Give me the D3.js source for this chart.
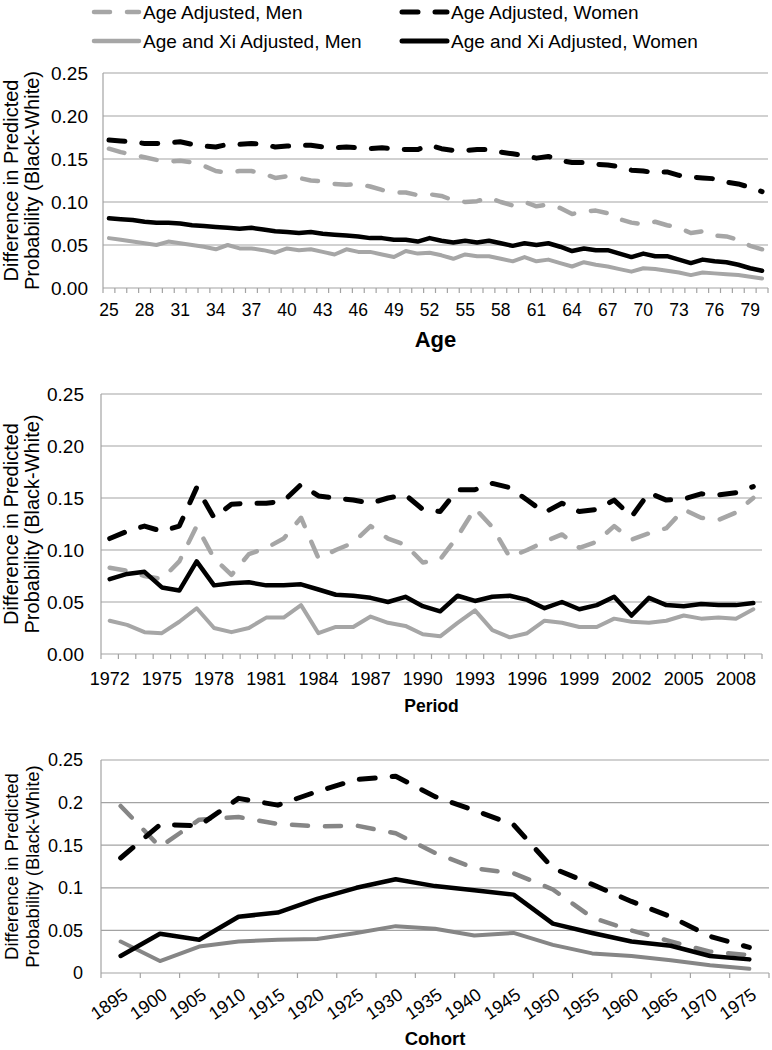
<!DOCTYPE html>
<html><head><meta charset="utf-8">
<script src="https://cdn.jsdelivr.net/npm/d3@7/dist/d3.min.js"></script>
<style>
body{margin:0;background:#fff}
text{font-family:"Liberation Sans",Arial,Helvetica,sans-serif;fill:#000}
</style>
</head><body>
<svg id="chart" width="772" height="1050"></svg>
<script>
// ---------- DATA ----------
const seriesNames = ["Age Adjusted, Men","Age Adjusted, Women","Age and Xi Adjusted, Men","Age and Xi Adjusted, Women"];

const ageCats = [25,26,27,28,29,30,31,32,33,34,35,36,37,38,39,40,41,42,43,44,45,46,47,48,49,50,51,52,53,54,55,56,57,58,59,60,61,62,63,64,65,66,67,68,69,70,71,72,73,74,75,76,77,78,79,80];
const ageMen = [.162,.158,.155,.152,.149,.147,.148,.146,.142,.136,.134,.136,.136,.133,.128,.130,.128,.125,.124,.121,.120,.121,.118,.114,.111,.111,.108,.109,.107,.102,.100,.101,.105,.100,.096,.100,.095,.097,.093,.086,.089,.090,.087,.080,.076,.074,.077,.073,.070,.064,.066,.061,.060,.056,.049,.045];
const ageWomen = [.172,.171,.170,.168,.168,.169,.170,.167,.165,.164,.167,.167,.168,.167,.164,.165,.166,.166,.164,.163,.164,.163,.162,.163,.162,.161,.161,.166,.162,.160,.160,.161,.161,.158,.156,.154,.151,.153,.148,.146,.146,.144,.143,.141,.137,.136,.134,.135,.131,.129,.128,.127,.123,.121,.117,.112];
const ageXiMen = [.058,.056,.054,.052,.050,.054,.052,.050,.048,.045,.050,.046,.046,.044,.041,.046,.044,.045,.042,.039,.045,.042,.042,.039,.036,.043,.040,.041,.038,.034,.039,.037,.037,.034,.031,.036,.031,.033,.029,.025,.030,.027,.025,.022,.019,.023,.022,.020,.018,.015,.018,.017,.016,.015,.013,.011];
const ageXiWomen = [.081,.080,.079,.077,.076,.076,.075,.073,.072,.071,.070,.069,.070,.068,.066,.065,.064,.065,.063,.062,.061,.060,.058,.058,.056,.056,.054,.058,.055,.053,.055,.053,.055,.052,.049,.052,.050,.052,.048,.043,.046,.044,.044,.040,.036,.040,.037,.037,.033,.029,.033,.031,.030,.027,.023,.020];

const periodCats = [1972,1973,1974,1975,1976,1977,1978,1979,1980,1981,1982,1983,1984,1985,1986,1987,1988,1989,1990,1991,1992,1993,1994,1995,1996,1997,1998,1999,2000,2001,2002,2003,2004,2005,2006,2007,2008,2009];
const periodMen = [.083,.080,.075,.072,.089,.123,.092,.076,.096,.102,.111,.131,.092,.100,.107,.123,.111,.105,.088,.091,.113,.140,.122,.093,.100,.108,.115,.102,.108,.123,.110,.116,.121,.139,.131,.129,.136,.150];
const periodWomen = [.111,.118,.123,.118,.123,.160,.131,.144,.145,.145,.147,.163,.152,.150,.148,.145,.150,.153,.139,.137,.158,.158,.164,.160,.148,.136,.145,.137,.139,.148,.132,.155,.148,.149,.154,.153,.155,.161];
const periodXiMen = [.032,.028,.021,.020,.031,.044,.025,.021,.025,.035,.035,.047,.020,.026,.026,.036,.030,.027,.019,.017,.030,.042,.023,.016,.020,.032,.030,.026,.026,.034,.031,.030,.032,.037,.034,.035,.034,.043];
const periodXiWomen = [.072,.077,.079,.064,.061,.089,.066,.068,.069,.066,.066,.067,.062,.057,.056,.054,.050,.055,.046,.041,.056,.051,.055,.056,.052,.044,.050,.043,.047,.055,.037,.054,.047,.046,.048,.047,.047,.049];

const cohortCats = [1895,1900,1905,1910,1915,1920,1925,1930,1935,1940,1945,1950,1955,1960,1965,1970,1975];
const cohortMen = [.196,.148,.180,.183,.175,.172,.173,.164,.141,.123,.117,.098,.065,.050,.037,.025,.021];
const cohortWomen = [.135,.174,.173,.205,.197,.213,.227,.231,.207,.191,.174,.123,.104,.084,.066,.043,.030];
const cohortXiMen = [.037,.014,.031,.037,.039,.040,.047,.055,.052,.044,.047,.033,.023,.020,.015,.009,.005];
const cohortXiWomen = [.020,.046,.039,.066,.071,.087,.100,.110,.102,.097,.092,.058,.047,.037,.032,.020,.016];

const yTicks = [0,0.05,0.10,0.15,0.20,0.25];
const yLabels2dp = ["0.00","0.05","0.10","0.15","0.20","0.25"];
const yLabelsShort = ["0","0.05","0.1","0.15","0.2","0.25"];
const yTitle = ["Difference in Predicted","Probability (Black-White)"];
const axisTitles = ["Age","Period","Cohort"];

// ---------- LAYOUT ----------
const svg = d3.select("#chart");
const gridColor = "#a3a3a3";

const panels = [
  {cats:ageCats, data:[ageMen,ageWomen,ageXiMen,ageXiWomen], L:103,R:768,T:73,B:288,
   yLab:yLabels2dp, yFs:19, yGap:15, every:3, xFs:17.5, xLabY:316, rot:0,
   title:axisTitles[0], tFs:22, tY:347, ytFs:20, gray:"#a6a6a6"},
  {cats:periodCats, data:[periodMen,periodWomen,periodXiMen,periodXiWomen], L:101,R:762,T:394,B:654,
   yLab:yLabels2dp, yFs:19, yGap:17, every:3, xFs:18, xLabY:685, rot:0,
   title:axisTitles[1], tFs:17.5, tY:712, ytFs:20, gray:"#a6a6a6"},
  {cats:cohortCats, data:[cohortMen,cohortWomen,cohortXiMen,cohortXiWomen], L:101,R:769,T:760,B:973,
   yLab:yLabelsShort, yFs:18, yGap:18, every:1, xFs:18, xLabY:987, rot:-35,
   title:axisTitles[2], tFs:18.5, tY:1045, ytFs:18.5, gray:"#868686"}
];

const styles = [
  {colorKey:"gray", w:4.5, dash:"16 17"},
  {colorKey:"black", w:5, dash:"16 17"},
  {colorKey:"gray", w:4, dash:null},
  {colorKey:"black", w:4.5, dash:null}
];

panels.forEach(p => {
  const g = svg.append("g");
  const x = d3.scaleBand().domain(p.cats).range([p.L, p.R]).paddingInner(0).paddingOuter(0);
  const y = d3.scaleLinear().domain([0, 0.25]).range([p.B, p.T]);

  // gridlines
  g.selectAll("line.grid").data(yTicks.slice(1)).join("line")
    .attr("x1", p.L).attr("x2", p.R)
    .attr("y1", d => y(d)).attr("y2", d => y(d))
    .attr("stroke", gridColor).attr("stroke-width", 1.2);

  // y axis line
  g.append("line").attr("x1", p.L).attr("x2", p.L).attr("y1", y(0.25)).attr("y2", y(0))
    .attr("stroke", gridColor).attr("stroke-width", 1.2);
  // x axis line
  g.append("line").attr("x1", p.L).attr("x2", p.R).attr("y1", y(0)).attr("y2", y(0))
    .attr("stroke", gridColor).attr("stroke-width", 1.2);

  // x ticks at category boundaries
  const edges = p.cats.map(c => x(c)).concat([x(p.cats[p.cats.length-1]) + x.bandwidth()]);
  g.selectAll("line.xt").data(edges).join("line")
    .attr("x1", d => d).attr("x2", d => d)
    .attr("y1", y(0)).attr("y2", y(0) + 5)
    .attr("stroke", gridColor).attr("stroke-width", 1.2);

  // y tick labels
  g.selectAll("text.yl").data(yTicks).join("text")
    .attr("x", p.L - p.yGap).attr("y", d => y(d)).attr("dy", "0.35em")
    .attr("text-anchor", "end").attr("font-size", p.yFs)
    .text((d, i) => p.yLab[i]);

  // x tick labels
  const labCats = p.cats.filter((c, i) => i % p.every === 0);
  if (p.rot === 0) {
    g.selectAll("text.xl").data(labCats).join("text")
      .attr("x", d => x(d) + x.bandwidth()/2).attr("y", p.xLabY)
      .attr("text-anchor", "middle").attr("font-size", p.xFs)
      .text(d => d);
  } else {
    g.selectAll("text.xl").data(labCats).join("text")
      .attr("transform", d => `translate(${x(d) + x.bandwidth()/2 + 1},${p.xLabY}) rotate(${p.rot})`)
      .attr("dy", "0.72em")
      .attr("text-anchor", "end").attr("font-size", p.xFs)
      .text(d => d);
  }

  // y title (two lines)
  const cy = (p.T + p.B) / 2;
  [18, 39].forEach((bx, i) => {
    g.append("text")
      .attr("transform", `translate(${bx},${cy}) rotate(-90)`)
      .attr("text-anchor", "middle").attr("font-size", p.ytFs)
      .text(yTitle[i]);
  });

  // x title
  g.append("text").attr("x", (p.L + p.R)/2).attr("y", p.tY)
    .attr("text-anchor", "middle").attr("font-weight", "bold").attr("font-size", p.tFs)
    .text(p.title);

  // lines
  const line = d3.line()
    .x((d, i) => x(p.cats[i]) + x.bandwidth()/2)
    .y(d => y(d));
  p.data.forEach((arr, si) => {
    const st = styles[si];
    g.append("path").datum(arr)
      .attr("d", line)
      .attr("fill", "none")
      .attr("stroke", st.colorKey === "gray" ? p.gray : "#000")
      .attr("stroke-width", st.w)
      .attr("stroke-linecap", "round").attr("stroke-linejoin", "round")
      .attr("stroke-dasharray", st.dash);
  });
});

// ---------- LEGEND ----------
const legendItems = [
  {name:seriesNames[0], x:94, y:12, color:"#a6a6a6", w:4.5, dash:"16 17"},
  {name:seriesNames[1], x:402, y:12, color:"#000", w:5, dash:"16 17"},
  {name:seriesNames[2], x:94, y:41, color:"#a6a6a6", w:4.5, dash:null},
  {name:seriesNames[3], x:402, y:41, color:"#000", w:5, dash:null}
];
const lg = svg.append("g");
legendItems.forEach(it => {
  lg.append("line").attr("x1", it.x).attr("x2", it.x + 45).attr("y1", it.y).attr("y2", it.y)
    .attr("stroke", it.color).attr("stroke-width", it.w).attr("stroke-linecap", "round")
    .attr("stroke-dasharray", it.dash);
  lg.append("text").attr("x", it.x + 49).attr("y", it.y + 7)
    .attr("font-size", 19).text(it.name);
});
</script>
</body></html>
